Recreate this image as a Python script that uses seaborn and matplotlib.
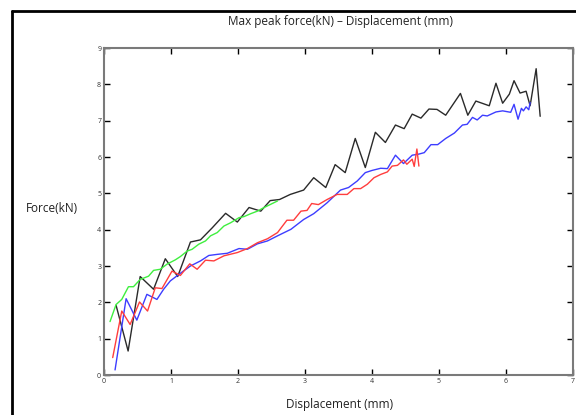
import matplotlib
matplotlib.use("Agg")
import matplotlib.pyplot as plt
from matplotlib.lines import Line2D
import pandas as pd
import seaborn as sns

# Test series: displacement (mm) and max peak force (kN)
black_disp = [0.18, 0.36, 0.54, 0.74, 0.915, 1.10, 1.29, 1.44, 1.615, 1.815, 1.99, 2.165,
              2.34, 2.48, 2.62, 2.78, 2.98, 3.13, 3.31, 3.45, 3.60, 3.75, 3.90, 4.05, 4.20,
              4.35, 4.48, 4.60, 4.73, 4.85, 4.97, 5.10, 5.32, 5.43, 5.55, 5.75, 5.85, 5.95,
              6.05, 6.12, 6.21, 6.30, 6.36, 6.45, 6.51]
black_force = [1.92, 0.66, 2.71, 2.36, 3.20, 2.71, 3.66, 3.72, 4.05, 4.45, 4.21, 4.61,
               4.51, 4.80, 4.83, 4.97, 5.09, 5.43, 5.16, 5.79, 5.57, 6.51, 5.71, 6.68, 6.40,
               6.88, 6.78, 7.18, 7.07, 7.32, 7.31, 7.15, 7.75, 7.15, 7.54, 7.41, 8.03, 7.48,
               7.73, 8.10, 7.76, 7.81, 7.41, 8.43, 7.12]

blue_disp = [0.165, 0.33, 0.49, 0.64, 0.79, 0.89, 0.99, 1.14, 1.29, 1.44, 1.565, 1.69,
             1.84, 2.015, 2.14, 2.29, 2.44, 2.59, 2.79, 2.98, 3.13, 3.33, 3.53, 3.65, 3.78,
             3.90, 4.00, 4.13, 4.23, 4.35, 4.47, 4.60, 4.70, 4.78, 4.88, 4.98, 5.10, 5.23,
             5.35, 5.42, 5.50, 5.57, 5.65, 5.72, 5.85, 5.95, 6.07, 6.12, 6.18, 6.23, 6.26,
             6.30, 6.34, 6.36]
blue_force = [0.14, 2.10, 1.51, 2.22, 2.08, 2.36, 2.59, 2.80, 3.00, 3.14, 3.29, 3.32,
              3.35, 3.48, 3.46, 3.61, 3.69, 3.83, 4.01, 4.28, 4.44, 4.74, 5.09, 5.16, 5.34,
              5.57, 5.63, 5.69, 5.68, 6.05, 5.82, 6.05, 6.08, 6.12, 6.34, 6.34, 6.51, 6.66,
              6.88, 6.90, 7.09, 7.02, 7.15, 7.13, 7.24, 7.27, 7.23, 7.45, 7.04, 7.34, 7.27,
              7.38, 7.30, 7.50]

red_disp = [0.13, 0.265, 0.39, 0.53, 0.65, 0.765, 0.865, 1.015, 1.14, 1.28, 1.39, 1.515,
            1.64, 1.79, 1.99, 2.14, 2.29, 2.44, 2.59, 2.73, 2.83, 2.94, 3.03, 3.10, 3.20,
            3.33, 3.48, 3.63, 3.73, 3.83, 3.93, 4.03, 4.13, 4.23, 4.30, 4.38, 4.47, 4.52,
            4.60, 4.63, 4.67, 4.70]
red_force = [0.48, 1.76, 1.39, 2.01, 1.76, 2.40, 2.38, 2.86, 2.74, 3.06, 2.91, 3.16,
             3.14, 3.28, 3.37, 3.48, 3.64, 3.75, 3.92, 4.26, 4.26, 4.51, 4.53, 4.72, 4.69,
             4.83, 4.97, 4.97, 5.13, 5.13, 5.25, 5.43, 5.52, 5.59, 5.75, 5.77, 5.92, 5.80,
             5.94, 5.74, 6.22, 5.75]

green_disp = [0.09, 0.18, 0.265, 0.365, 0.44, 0.54, 0.665, 0.74, 0.84, 0.94, 1.065, 1.14,
              1.24, 1.315, 1.415, 1.515, 1.59, 1.69, 1.79, 1.89, 2.015, 2.09, 2.19, 2.29,
              2.39, 2.49, 2.59]
green_force = [1.47, 1.94, 2.08, 2.43, 2.43, 2.63, 2.72, 2.88, 2.91, 3.05, 3.17, 3.26,
               3.41, 3.46, 3.60, 3.69, 3.83, 3.92, 4.10, 4.19, 4.33, 4.36, 4.44, 4.51,
               4.61, 4.70, 4.79]

x_ticks = [0, 1, 2, 3, 4, 5, 6, 7]
y_ticks = [0, 1, 2, 3, 4, 5, 6, 7, 8, 9]

series = [("black", black_disp, black_force),
          ("blue", blue_disp, blue_force),
          ("red", red_disp, red_force),
          ("green", green_disp, green_force)]
frames = []
for name, d, f in series:
    frames.append(pd.DataFrame({"disp": d, "force": f, "test": name}))
df = pd.concat(frames, ignore_index=True)

palette = {"black": "#2a2a2a", "blue": "#3d3dff", "red": "#ff3d3d", "green": "#3fef3f"}

sns.set_style("white")
plt.rcParams["font.family"] = ["Open Sans", "DejaVu Sans"]

fig = plt.figure(figsize=(5.76, 4.15), dpi=100)
ax = fig.add_axes([104 / 576, 1 - 375 / 415, (573 - 104) / 576, (375 - 48) / 415])

sns.lineplot(data=df, x="disp", y="force", hue="test", palette=palette,
             sort=False, estimator=None, linewidth=1.0, legend=False, ax=ax)

ax.set_xlim(0, 7)
ax.set_ylim(0, 9)
ax.set_xticks(x_ticks)
ax.set_yticks(y_ticks)
ax.set_xlabel("")
ax.set_ylabel("")
ax.tick_params(direction="in", length=4, width=1, color="black",
               top=True, right=True, bottom=True, left=True,
               labelsize=5, labelcolor="#333333", pad=2)
for sp in ax.spines.values():
    sp.set_color("#7a7a7a")
    sp.set_linewidth(1.5)
    sp.set_visible(True)

fig.text(340 / 576, 1 - 22 / 415, "Max peak force(kN) \u2013 Displacement (mm)",
         ha="center", va="center", fontsize=8.5, color="#222222")
fig.text(52 / 576, 1 - 208 / 415, "Force(kN)", ha="center", va="center",
         fontsize=8.5, color="#222222")
fig.text(340 / 576, 1 - 404 / 415, "Displacement (mm)", ha="center", va="center",
         fontsize=8.5, color="#222222")

# Outer frame lines (left and top)
fig.add_artist(Line2D([12 / 576, 12 / 576], [0, 1 - 11 / 415], color="black",
                      linewidth=2, transform=fig.transFigure))
fig.add_artist(Line2D([12 / 576, 1], [1 - 11 / 415, 1 - 11 / 415], color="black",
                      linewidth=2, transform=fig.transFigure))

fig.savefig("out.png", dpi=100)
